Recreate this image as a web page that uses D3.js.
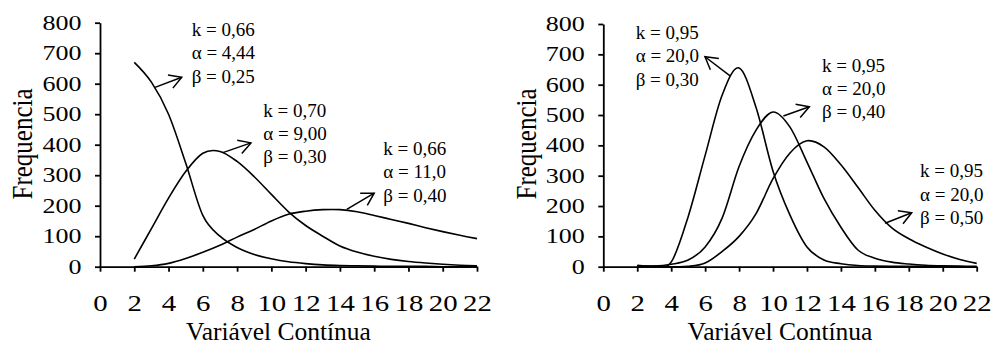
<!DOCTYPE html>
<html>
<head>
<meta charset="utf-8">
<script src="https://cdn.jsdelivr.net/npm/d3@7"></script>
<style>
  body { margin: 0; background: #fff; }
  svg { display: block; }
  text { font-family: "Liberation Serif", "Times New Roman", serif; fill: #000; }
</style>
</head>
<body>
<svg id="chart" width="992" height="347" font-family="Liberation Serif, Times New Roman, serif"></svg>
<script>
const xValues = [2, 3, 4, 5, 6, 7, 8, 9, 10, 11, 12, 13, 14, 15, 16, 17, 18, 19, 20, 21, 22];
const xTicks = [0, 2, 4, 6, 8, 10, 12, 14, 16, 18, 20, 22];
const yTicks = [0, 100, 200, 300, 400, 500, 600, 700, 800];

// left panel: k = 0,66 / 0,70 / 0,66
const leftBeta025 = [670, 605, 500, 340, 168, 100, 63, 40, 26, 16, 10, 6, 4, 3, 2, 1, 1, 1, 0, 0, 0];
const leftBeta030 = [25, 125, 225, 312, 372, 378, 345, 295, 237, 180, 135, 100, 68, 48, 34, 24, 17, 12, 8, 5, 3];
const leftBeta040 = [0, 3, 11, 27, 47, 70, 97, 122, 150, 172, 182, 187, 187, 180, 168, 155, 142, 128, 115, 103, 92];

// right panel: k = 0,95, alpha = 20,0
const rightBeta030 = [5, 2, 15, 165, 367, 565, 655, 525, 315, 170, 65, 22, 10, 4, 2, 1, 1, 1, 0, 0, 0];
const rightBeta040 = [3, 2, 8, 22, 65, 160, 330, 450, 510, 460, 345, 225, 130, 55, 28, 15, 9, 5, 3, 2, 1];
const rightBeta050 = [1, 0, 0, 1, 12, 50, 100, 175, 290, 375, 415, 395, 336, 262, 186, 128, 92, 65, 42, 24, 11];

const leftLabels = [
  ["k = 0,66", "α = 4,44", "β = 0,25"],
  ["k = 0,70", "α = 9,00", "β = 0,30"],
  ["k = 0,66", "α = 11,0", "β = 0,40"]
];
const rightLabels = [
  ["k = 0,95", "α = 20,0", "β = 0,30"],
  ["k = 0,95", "α = 20,0", "β = 0,40"],
  ["k = 0,95", "α = 20,0", "β = 0,50"]
];
// label anchors (x, y of first line) and arrows (tail x, tail y, tip x, tip y), in data units
const leftLabelAt = [[5.35, 756], [9.53, 492], [16.53, 366]];
const leftArrows = [[3.21, 588, 4.77, 621], [7.17, 374, 8.81, 406], [14.4, 188, 16.0, 241]];
const rightLabelAt = [[1.91, 750], [12.89, 643], [18.66, 295]];
const rightArrows = [[7.47, 629, 5.99, 692], [10.61, 497, 12.14, 527], [16.6, 143, 18.17, 178]];

const xTitle = "Variável Contínua";
const yTitle = "Frequencia";

const svg = d3.select("#chart");
const Y_STRETCH = 1.3;
const X_STRETCH = 1.2;
const LINE_GAP = 23.3;

const panels = [
  { left: 100, right: 477, top: 22.7, bottom: 266.7, yTitleX: 31.5, series: [leftBeta025, leftBeta030, leftBeta040], labels: leftLabels, labelAt: leftLabelAt, arrows: leftArrows },
  { left: 603.3, right: 976.7, top: 24, bottom: 266.7, yTitleX: 536, series: [rightBeta030, rightBeta040, rightBeta050], labels: rightLabels, labelAt: rightLabelAt, arrows: rightArrows }
];

function drawArrow(g, x1, y1, x2, y2) {
  const back = Math.atan2(y1 - y2, x1 - x2);
  const len = 14;
  const spread = Math.PI / 6;
  g.append("line")
    .attr("x1", x1).attr("y1", y1).attr("x2", x2).attr("y2", y2)
    .attr("stroke", "#000").attr("stroke-width", 1.5);
  const pts = [
    [x2 + Math.cos(back + spread) * len, y2 + Math.sin(back + spread) * len],
    [x2, y2],
    [x2 + Math.cos(back - spread) * len, y2 + Math.sin(back - spread) * len]
  ];
  g.append("path")
    .attr("d", d3.line()(pts))
    .attr("fill", "none").attr("stroke", "#000").attr("stroke-width", 1.5);
}

function drawPanel(p) {
  const x = d3.scaleLinear().domain([0, 22]).range([p.left, p.right]);
  const y = d3.scaleLinear().domain([0, 800]).range([p.bottom, p.top]);
  const g = svg.append("g");

  const yAxis = g.append("g")
    .attr("transform", `translate(${p.left},0)`)
    .call(d3.axisLeft(y).tickValues(yTicks).tickSize(5).tickSizeOuter(0));
  yAxis.selectAll(".tick text")
    .attr("x", -18.5 / Y_STRETCH)
    .attr("transform", `scale(${Y_STRETCH},1)`)
    .attr("font-size", 20);

  const xAxis = g.append("g")
    .attr("transform", `translate(0,${p.bottom})`)
    .call(d3.axisBottom(x).tickValues(xTicks).tickSize(5).tickSizeOuter(0));
  xAxis.selectAll(".tick text")
    .attr("y", 27)
    .attr("transform", `scale(${X_STRETCH},1)`)
    .attr("font-size", 24);

  [yAxis, xAxis].forEach((a) => {
    a.attr("font-family", null).attr("font-size", null);
    a.selectAll("path, line").attr("stroke", "#000").attr("stroke-width", 1.8);
  });

  const line = d3.line()
    .x((d, i) => x(xValues[i]))
    .y((d) => y(d))
    .curve(d3.curveCardinal);

  g.append("g")
    .selectAll("path")
    .data(p.series)
    .join("path")
    .attr("d", line)
    .attr("fill", "none")
    .attr("stroke", "#000")
    .attr("stroke-width", 1.6);

  p.arrows.forEach((a) => drawArrow(g, x(a[0]), y(a[1]), x(a[2]), y(a[3])));

  p.labels.forEach((lines, i) => {
    const t = g.append("text")
      .attr("x", x(p.labelAt[i][0]))
      .attr("y", y(p.labelAt[i][1]))
      .attr("font-size", 19);
    t.selectAll("tspan")
      .data(lines)
      .join("tspan")
      .attr("x", x(p.labelAt[i][0]))
      .attr("dy", (d, j) => (j === 0 ? 0 : LINE_GAP))
      .text((d) => d);
  });

  g.append("text")
    .attr("x", (p.left + p.right) / 2 - 10)
    .attr("y", 340)
    .attr("text-anchor", "middle")
    .attr("font-size", 25.5)
    .text(xTitle);

  g.append("text")
    .attr("transform", `translate(${p.yTitleX},144) rotate(-90) scale(1,1.2)`)
    .attr("text-anchor", "middle")
    .attr("font-size", 25)
    .text(yTitle);
}

panels.forEach(drawPanel);
</script>
</body>
</html>
